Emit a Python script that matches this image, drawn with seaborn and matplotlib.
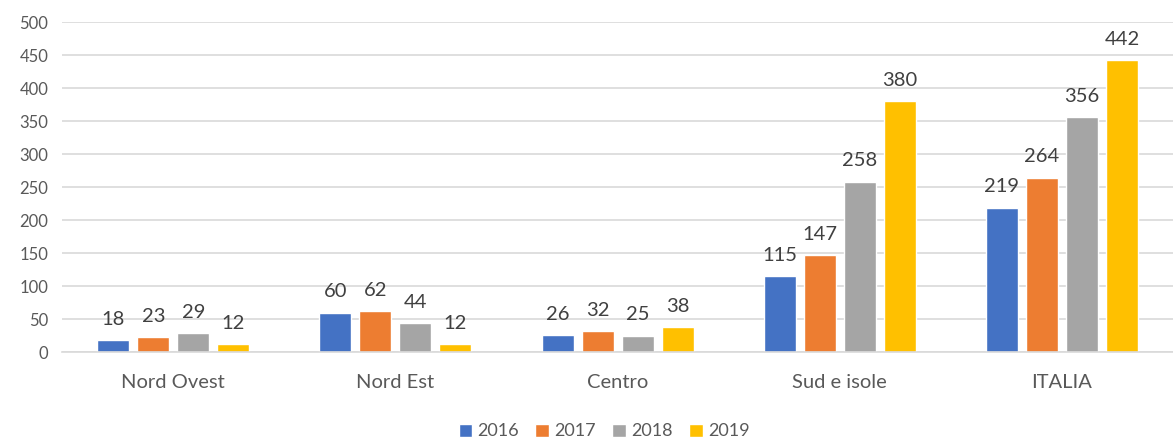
import matplotlib
matplotlib.use("Agg")
import matplotlib.pyplot as plt
import seaborn as sns
import pandas as pd

regions = ["Nord Ovest", "Nord Est", "Centro", "Sud e isole", "ITALIA"]
years = ["2016", "2017", "2018", "2019"]
v2016 = [18, 60, 26, 115, 219]
v2017 = [23, 62, 32, 147, 264]
v2018 = [29, 44, 25, 258, 356]
v2019 = [12, 12, 38, 380, 442]
colors = ["#4472C4", "#ED7D31", "#A5A5A5", "#FFC000"]

rows = []
for year, vals in zip(years, [v2016, v2017, v2018, v2019]):
    for reg, v in zip(regions, vals):
        rows.append({"region": reg, "year": year, "value": v})
df = pd.DataFrame(rows)

sns.set_style("white")
plt.rcParams["font.family"] = ["Lato", "DejaVu Sans"]

fig = plt.figure(figsize=(11.73, 4.43), dpi=100)
ax = fig.add_axes([0.053, 0.205, 0.947, 0.745])

sns.barplot(data=df, x="region", y="value", hue="year", order=regions,
            hue_order=years, palette=colors, width=0.72, gap=0.2,
            saturation=1, ax=ax, legend=True)

for cont in ax.containers:
    ax.bar_label(cont, fmt="%d", padding=9, fontsize=14.5, color="#404040")

ax.set_ylim(0, 500)
ax.set_yticks(range(0, 501, 50))
ax.yaxis.grid(True, color="#D9D9D9", linewidth=1.2)
ax.set_axisbelow(True)
ax.set_xlabel("")
ax.set_ylabel("")
for s in ["top", "right", "left"]:
    ax.spines[s].set_visible(False)
ax.spines["bottom"].set_color("#D9D9D9")
ax.spines["bottom"].set_linewidth(1.2)
ax.tick_params(axis="y", length=0, labelsize=12, labelcolor="#595959", pad=10)
ax.tick_params(axis="x", length=0, labelsize=14.5, labelcolor="#595959", pad=16)

ax.get_legend().remove()
handles, labels = ax.get_legend_handles_labels()
fig.legend(handles, labels, loc="center", bbox_to_anchor=(0.515, 0.026), ncol=4,
           frameon=False, fontsize=13, handlelength=0.75, handleheight=0.75,
           columnspacing=0.9, handletextpad=0.3, labelcolor="#595959",
           borderpad=0.2)

fig.savefig("out.png", dpi=100)
